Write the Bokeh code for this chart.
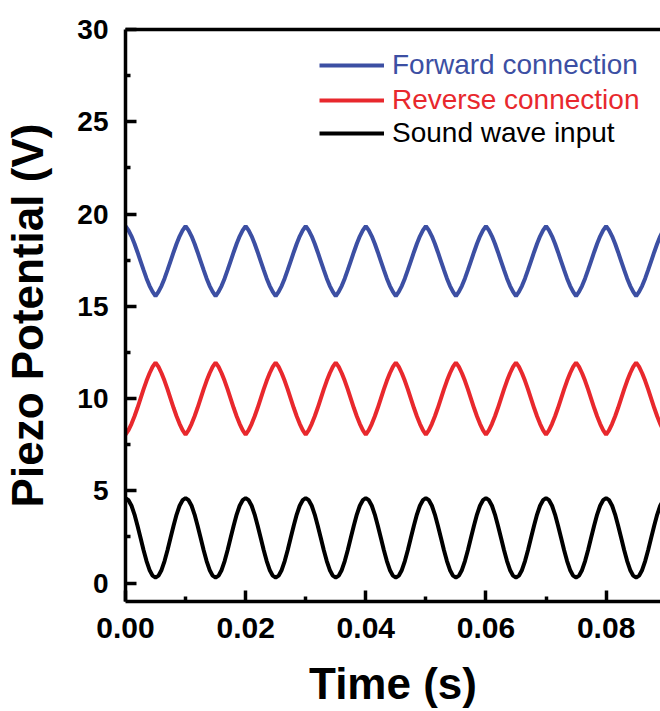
import numpy as np
from bokeh.plotting import figure
from bokeh.models import (LinearAxis, FixedTicker, Legend, LegendItem, Range1d)
from bokeh.embed import file_html
from bokeh.resources import INLINE

# ---- data ----
period = 0.01          # s, one cycle of the 100 Hz signal
n_cycles = 9
# one cycle, sampled every period/20, starting at t = 0
forward_cycle = [19.35, 19.11, 18.79, 18.39, 17.93, 17.45, 16.97, 16.51, 16.11, 15.79,
                 15.55, 15.79, 16.11, 16.51, 16.97, 17.45, 17.93, 18.39, 18.79, 19.11]
reverse_cycle = [8.05, 8.29, 8.63, 9.04, 9.50, 10.00, 10.50, 10.96, 11.37, 11.71,
                 11.95, 11.71, 11.37, 10.96, 10.50, 10.00, 9.50, 9.04, 8.63, 8.29]
sound_cycle = [4.60, 4.49, 4.19, 3.71, 3.11, 2.45, 1.79, 1.19, 0.71, 0.40,
               0.30, 0.40, 0.71, 1.19, 1.79, 2.45, 3.11, 3.71, 4.19, 4.49]

series_names = ["Forward connection", "Reverse connection", "Sound wave input"]
series_colors = ["#3C4FA3", "#E8282D", "#000000"]

x_ticks = [0.00, 0.02, 0.04, 0.06, 0.08]
x_tick_labels = ["0.00", "0.02", "0.04", "0.06", "0.08"]
x_minor = [0.01, 0.03, 0.05, 0.07, 0.09]
y_ticks = [0, 5, 10, 15, 20, 25, 30]
y_tick_labels = ["0", "5", "10", "15", "20", "25", "30"]
y_minor = [2.5, 7.5, 12.5, 17.5, 22.5, 27.5]

# ---- build series ----
n_per = len(sound_cycle)
t = np.arange(n_per * n_cycles + 1) * (period / n_per)
def tile(c):
    return list(np.tile(c, n_cycles)) + [c[0]]
series = [tile(forward_cycle), tile(reverse_cycle), tile(sound_cycle)]

p = figure(width=660, height=710, output_backend="svg", toolbar_location=None,
           x_range=Range1d(0, 0.08905), y_range=Range1d(-1, 30),
           min_border_left=124, min_border_right=0, min_border_top=29,
           min_border_bottom=104)
p.xgrid.visible = False
p.ygrid.visible = False
p.outline_line_color = None
p.background_fill_color = "white"
p.border_fill_color = "white"

renderers = []
for ys, col in zip(series, series_colors):
    r = p.line(t, ys, line_color=col, line_width=4)
    renderers.append(r)

FONT = "Liberation Sans"
for ax in (p.xaxis[0], p.yaxis[0]):
    ax.axis_line_width = 3.5
    ax.axis_line_color = "black"
    ax.major_tick_line_width = 3.5
    ax.minor_tick_line_width = 3.5
    ax.major_tick_in = 11
    ax.major_tick_out = 0
    ax.minor_tick_in = 5
    ax.minor_tick_out = 0
    ax.major_label_text_font = FONT
    ax.major_label_text_font_style = "bold"
    ax.major_label_text_color = "black"
    ax.axis_label_text_font = FONT
    ax.axis_label_text_font_style = "bold"
    ax.axis_label_text_color = "black"
    ax.axis_label_text_font_size = "44px"

p.xaxis[0].ticker = FixedTicker(ticks=x_ticks, minor_ticks=x_minor)
p.xaxis[0].major_label_overrides = {v: s for v, s in zip(x_ticks, x_tick_labels)}
p.xaxis[0].major_label_text_font_size = "30px"
p.xaxis[0].major_label_standoff = 16
p.xaxis[0].axis_label = "Time (s)"
p.xaxis[0].axis_label_standoff = 18

p.yaxis[0].ticker = FixedTicker(ticks=y_ticks, minor_ticks=y_minor)
p.yaxis[0].major_label_overrides = {v: s for v, s in zip(y_ticks, y_tick_labels)}
p.yaxis[0].major_label_text_font_size = "28px"
p.yaxis[0].major_label_standoff = 17
p.yaxis[0].axis_label = "Piezo Potential (V)"
p.yaxis[0].axis_label_standoff = 22

top = LinearAxis(ticker=FixedTicker(ticks=[]), axis_line_width=3.5,
                 major_tick_in=0, major_tick_out=0, minor_tick_in=0,
                 minor_tick_out=0, major_label_text_font_size="0px")
p.add_layout(top, "above")

legend_y = [519, 484, 451]
for name, r, col, ly in zip(series_names, renderers, series_colors, legend_y):
    leg = Legend(items=[LegendItem(label=name, renderers=[r])],
                 location=(194, ly), label_text_color=col,
                 label_text_font=FONT, label_text_font_size="28px",
                 glyph_width=65, glyph_height=34, label_height=34,
                 label_standoff=8, padding=0, margin=0, spacing=0,
                 border_line_color=None, background_fill_alpha=0)
    p.add_layout(leg)

open("out.html", "w").write(file_html(p, INLINE))
